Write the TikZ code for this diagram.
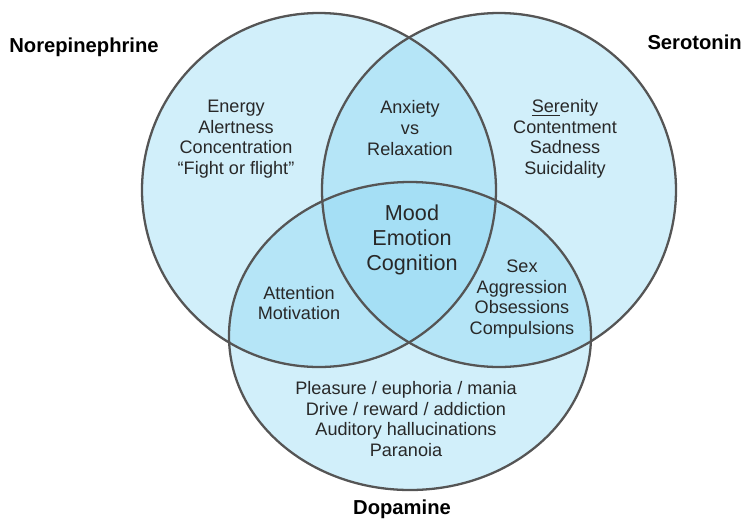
\documentclass[tikz,border=0pt]{standalone}
\usepackage{fontspec}
\setmainfont{Liberation Sans}
\usepackage{tikz}

\definecolor{vennfill}{RGB}{140,214,242}
\definecolor{vennline}{RGB}{85,85,85}
\definecolor{venntext}{RGB}{40,40,40}

\begin{document}
\begin{tikzpicture}[x=0.02cm, y=-0.02cm,
    region/.style={align=center, text=venntext, font=\fontsize{10.3}{11.7}\selectfont},
    core/.style={align=center, text=venntext, font=\fontsize{12.3}{14}\selectfont},
    transmitter/.style={text=black, font=\fontsize{11.5}{13}\selectfont\bfseries}]
        \useasboundingbox (0,0) rectangle (748,522);
        % the three sets, shaded where they overlap
        \fill[vennfill, fill opacity=0.4] (319,190) circle (177);
        \fill[vennfill, fill opacity=0.4] (499,190) circle (177);
        \fill[vennfill, fill opacity=0.4] (410,336) ellipse (181 and 154);
        \draw[line width=1.3pt, color=vennline] (319,190) circle (177);
        \draw[line width=1.3pt, color=vennline] (499,190) circle (177);
        \draw[line width=1.3pt, color=vennline] (410,336) ellipse (181 and 154);

        \node[transmitter] (norepinephrine) at (84,47) {Norepinephrine};
        \node[transmitter, anchor=east] (serotonin) at (748,42) {Serotonin};
        \node[transmitter] (dopamine) at (402,509) {Dopamine};

        \node[region] (ne) at (236,139) {Energy\\Alertness\\Concentration\\“Fight or flight”};
        \node[region] (se) at (565,139) {\underline{Ser}enity\\Contentment\\Sadness\\Suicidality};
        \node[region] (da) at (406,419) {Pleasure / euphoria / mania\\Drive / reward / addiction\\Auditory hallucinations\\Paranoia};
        \node[region] (ne-se) at (410,128) {Anxiety\\vs\\Relaxation};
        \node[region] (ne-da) at (299,303) {Attention\\Motivation};
        \node[region] (se-da) at (522,299) {Sex\\Aggression\\Obsessions\\Compulsions};
        \node[core] (all) at (412,240) {Mood\\Emotion\\Cognition};
    \end{tikzpicture}
\end{document}
